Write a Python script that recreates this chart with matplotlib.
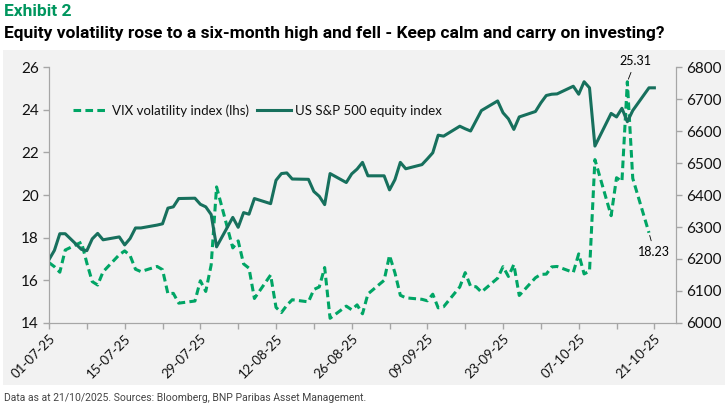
import pandas as pd
import matplotlib
matplotlib.use("Agg")
import matplotlib.pyplot as plt
from matplotlib.patches import Rectangle

# trading days (weekdays, holidays carried in the source data)
dates = pd.bdate_range("2025-07-01", "2025-10-21")

spx = [6198, 6227, 6279, 6279, 6230, 6226, 6263, 6280, 6260, 6269, 6244, 6264,
       6297, 6297, 6306, 6310, 6359, 6363, 6389, 6390, 6371, 6363, 6339,
       6238, 6330, 6299, 6345, 6340, 6389, 6373, 6446, 6467, 6469, 6450, 6449,
       6411, 6396, 6370, 6467, 6439, 6466, 6481, 6502, 6460,
       6460, 6416, 6448, 6502, 6482, 6495, 6513, 6532, 6587, 6584, 6615, 6607,
       6600, 6632, 6664, 6694, 6657, 6638, 6605, 6644, 6661, 6688,
       6711, 6715, 6716, 6740, 6715, 6754, 6735, 6553, 6655, 6644, 6671, 6629,
       6664, 6735, 6735]

vix = [16.83, 16.64, 16.38, 17.42, 17.79, 16.81, 15.94, 15.78, 16.40, 17.20,
       17.38, 17.16, 16.52, 16.41, 16.65, 16.50, 15.37, 15.39, 14.93, 15.03,
       15.98, 15.48, 16.72,
       20.38, 17.52, 17.85, 16.77, 16.57, 15.15, 16.25, 14.73, 14.49, 14.83,
       15.09, 14.99, 15.57, 15.69, 16.60, 14.22, 14.79, 14.62, 14.85, 14.43, 15.36,
       16.00, 17.17, 16.35, 15.30, 15.18, 15.11, 15.04, 15.35, 14.71, 14.76,
       15.69, 16.36, 15.72, 15.70, 15.45, 16.10, 16.64, 16.18, 16.74, 15.29,
       16.12, 16.28,
       16.29, 16.63, 16.65, 16.37, 17.24, 16.30, 16.43, 21.66, 19.03, 20.81,
       20.64, 25.31, 20.78, 18.23]

tick_dates = pd.date_range("2025-07-01", "2025-10-21", freq="14D")
tick_labels = [d.strftime("%d-%m-%y") for d in tick_dates]

green = "#00a565"
teal = "#17705d"
bg = "#f2f2f2"
grey = "#a6a6a6"
narrow = ["Liberation Sans Narrow", "Roboto", "DejaVu Sans"]
body = ["Lato", "DejaVu Sans"]

fig = plt.figure(figsize=(7.25, 4.05), dpi=100)
fig.patches.append(Rectangle((0.004, 0.049), 0.996, 0.828, transform=fig.transFigure,
                             facecolor=bg, edgecolor="none", zorder=-10))

fig.text(0.006, 0.972, "Exhibit 2", color="#00965e", fontsize=12.5, fontweight="bold",
         family=narrow, va="center")
fig.text(0.006, 0.918, "Equity volatility rose to a six-month high and fell - Keep calm and carry on investing?",
         color="black", fontsize=12.5, fontweight="bold", family=narrow, va="center")
fig.text(0.006, 0.017, "Data as at 21/10/2025. Sources: Bloomberg, BNP Paribas Asset Management.",
         color="#444444", fontsize=7.5, family=narrow, va="center")

ax = fig.add_axes([0.0676, 0.2025, 0.8648, 0.632])
ax.set_facecolor(bg)
ax2 = ax.twinx()

l1, = ax.plot(dates[:len(vix)], vix, color=green, lw=2.2, ls=(0, (2.5, 1.4)),
              label="VIX volatility index (lhs)")
l2, = ax2.plot(dates[:len(spx)], spx, color=teal, lw=2.2, label="US S&P 500 equity index")

ax.set_ylim(14, 26)
ax.set_yticks(range(14, 27, 2))
ax2.set_ylim(6000, 6800)
ax2.set_yticks(range(6000, 6801, 100))
ax.set_xlim(pd.Timestamp("2025-07-01"), pd.Timestamp("2025-10-25"))
ax.set_xticks(tick_dates)
ax.set_xticklabels(tick_labels, rotation=45, ha="right", rotation_mode="anchor",
                   fontsize=9.5, family=body, color="#111111")
ax.set_xticks(pd.date_range("2025-07-08", "2025-10-25", freq="14D"), minor=True)

for a in (ax, ax2):
    for s in a.spines.values():
        s.set_color(grey)
    a.spines["top"].set_visible(False)
    a.tick_params(which="both", color=grey, length=4, width=1)
    for t in a.get_yticklabels():
        t.set_family(body)
        t.set_fontsize(11)
        t.set_color("#111111")
ax.tick_params(axis="x", which="both", length=4, pad=3)

ax.annotate("25.31", xy=(dates[len(vix) - 3], 25.31), xytext=(pd.Timestamp("2025-10-17 12:00"), 26.0),
            fontsize=9, family=body, ha="center", va="bottom",
            arrowprops=dict(arrowstyle="-", color="black", lw=0.6))
ax.annotate("18.23", xy=(dates[len(vix) - 1], 18.23), xytext=(pd.Timestamp("2025-10-21"), 17.6),
            fontsize=9, family=body, ha="center", va="top",
            arrowprops=dict(arrowstyle="-", color="black", lw=0.6))

ax.legend(handles=[l1, l2], loc="upper left", bbox_to_anchor=(0.02, 0.9), ncol=2,
          frameon=False, prop={"family": body, "size": 9.5}, handlelength=2.6,
          handletextpad=0.3, columnspacing=0.6, labelcolor="#111111")

fig.savefig("out.png", dpi=100)
